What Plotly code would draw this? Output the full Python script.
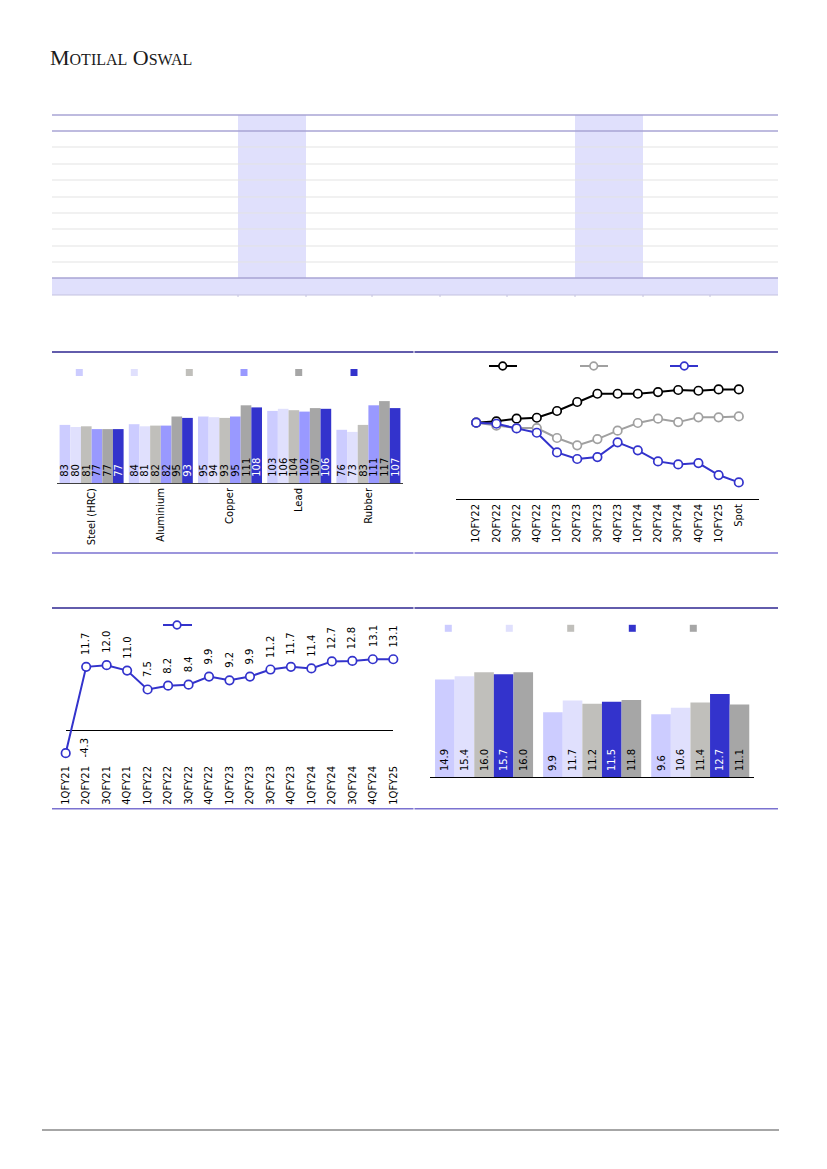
import plotly.graph_objects as go

W, H = 827, 1169


def px(x):
    return x / W


def py(y):
    return 1 - y / H


FONT = "DejaVu Sans"
NB = "\u00a0"

# ---------------- Chart 1: grouped bars (metals) ----------------
metals = ["Steel (HRC)", "Aluminium", "Copper", "Lead", "Rubber"]
c1_s1 = [83, 84, 95, 103, 76]
c1_s2 = [80, 81, 94, 106, 73]
c1_s3 = [81, 82, 93, 104, 83]
c1_s4 = [77, 82, 95, 102, 111]
c1_s5 = [77, 95, 111, 107, 117]
c1_s6 = [77, 93, 108, 106, 107]
c1_series = [c1_s1, c1_s2, c1_s3, c1_s4, c1_s5, c1_s6]
c1_colors = ["#ccccff", "#e0e0fd", "#c0bfbb", "#9999ff", "#a6a6a6", "#3333cc"]
c1_txtcol = ["#000000"] * 5 + ["#ffffff"]

# ---------------- Chart 2: indexed lines ----------------
quarters2 = ["1QFY22", "2QFY22", "3QFY22", "4QFY22", "1QFY23", "2QFY23", "3QFY23",
             "4QFY23", "1QFY24", "2QFY24", "3QFY24", "4QFY24", "1QFY25", "Spot"]
c2_black = [100.0, 100.9, 102.7, 103.3, 107.8, 113.8, 119.3, 119.3, 119.3, 120.4, 121.8, 121.3, 122.2, 122.2]
c2_gray = [100.0, 98.0, 96.4, 96.4, 89.8, 84.9, 89.1, 94.7, 99.8, 102.7, 100.4, 103.6, 103.6, 104.2]
c2_blue = [100.0, 99.3, 96.2, 93.3, 80.2, 75.8, 77.1, 86.9, 81.6, 74.2, 72.2, 73.1, 65.1, 60.2]

# ---------------- Chart 3: growth line ----------------
quarters3 = ["1QFY21", "2QFY21", "3QFY21", "4QFY21", "1QFY22", "2QFY22", "3QFY22", "4QFY22",
             "1QFY23", "2QFY23", "3QFY23", "4QFY23", "1QFY24", "2QFY24", "3QFY24", "4QFY24", "1QFY25"]
c3_vals = [-4.3, 11.7, 12.0, 11.0, 7.5, 8.2, 8.4, 9.9, 9.2, 9.9, 11.2, 11.7, 11.4, 12.7, 12.8, 13.1, 13.1]

# ---------------- Chart 4: grouped bars ----------------
groups4 = ["Group A", "Group B", "Group C"]
c4_s1 = [14.9, 9.9, 9.6]
c4_s2 = [15.4, 11.7, 10.6]
c4_s3 = [16.0, 11.2, 11.4]
c4_s4 = [15.7, 11.5, 12.7]
c4_s5 = [16.0, 11.8, 11.1]
c4_series = [c4_s1, c4_s2, c4_s3, c4_s4, c4_s5]
c4_colors = ["#ccccff", "#e0e0fd", "#c0bfbb", "#3333cc", "#a6a6a6"]
c4_txtcol = ["#000000", "#000000", "#000000", "#ffffff", "#000000"]

fig = go.Figure()

# chart 1 bars
gw1 = 0.925
bw1 = gw1 / 6
for i, (vals, col, tc) in enumerate(zip(c1_series, c1_colors, c1_txtcol)):
    fig.add_trace(go.Bar(
        x=metals, y=vals, xaxis="x", yaxis="y",
        width=bw1, offset=-gw1 / 2 + i * bw1,
        marker=dict(color=col, line=dict(width=0)),
        text=[NB + str(v) for v in vals], textposition="inside",
        insidetextanchor="start", textangle=-90,
        insidetextfont=dict(family=FONT, size=10, color=tc),
        showlegend=False, hoverinfo="skip"))

# chart 2 lines
for vals, col in [(c2_black, "#000000"), (c2_gray, "#a0a0a0"), (c2_blue, "#3333cc")]:
    fig.add_trace(go.Scatter(
        x=quarters2, y=vals, xaxis="x2", yaxis="y2", mode="lines+markers",
        line=dict(color=col, width=2),
        marker=dict(symbol="circle", size=8.5, color="#ffffff", line=dict(color=col, width=1.7)),
        showlegend=False, hoverinfo="skip", cliponaxis=False))

# chart 3 line
fig.add_trace(go.Scatter(
    x=quarters3, y=c3_vals, xaxis="x3", yaxis="y3", mode="lines+markers",
    line=dict(color="#3333cc", width=2),
    marker=dict(symbol="circle", size=8.5, color="#ffffff", line=dict(color="#3333cc", width=1.7)),
    showlegend=False, hoverinfo="skip", cliponaxis=False))

# chart 4 bars
gw4 = 0.907
bw4 = gw4 / 5
for i, (vals, col, tc) in enumerate(zip(c4_series, c4_colors, c4_txtcol)):
    fig.add_trace(go.Bar(
        x=groups4, y=vals, xaxis="x4", yaxis="y4",
        width=bw4, offset=-gw4 / 2 + i * bw4,
        marker=dict(color=col, line=dict(width=0)),
        text=[NB + f"{v:.1f}" for v in vals], textposition="inside",
        insidetextanchor="start", textangle=-90,
        insidetextfont=dict(family=FONT, size=10, color=tc),
        showlegend=False, hoverinfo="skip"))

# data labels for chart 3
annotations = []
for q, v in zip(quarters3, c3_vals):
    if v < 0:
        annotations.append(dict(x=q, y=v, xref="x3", yref="y3", text=f"{v:.1f}",
                                textangle=-90, showarrow=False, xanchor="left",
                                yanchor="middle", xshift=11, yshift=6,
                                font=dict(family=FONT, size=10, color="#000000")))
    else:
        annotations.append(dict(x=q, y=v, xref="x3", yref="y3", text=f"{v:.1f}",
                                textangle=-90, showarrow=False, xanchor="center",
                                yanchor="bottom", yshift=10,
                                font=dict(family=FONT, size=10, color="#000000")))

# logo
annotations.append(dict(
    x=px(48), y=py(57.5), xref="paper", yref="paper", xanchor="left", yanchor="middle",
    showarrow=False,
    text=('M<span style="font-size:16px">OTILAL</span> '
          'O<span style="font-size:16px">SWAL</span>'),
    font=dict(family="Liberation Serif", size=22, color="#1a1a1a")))

shapes = []


def hline(x0, x1, y, color, width):
    shapes.append(dict(type="line", xref="paper", yref="paper",
                       x0=px(x0), x1=px(x1), y0=py(y), y1=py(y),
                       line=dict(color=color, width=width)))


def rect(x0, x1, y0, y1, color, layer="below"):
    shapes.append(dict(type="rect", xref="paper", yref="paper",
                       x0=px(x0), x1=px(x1), y0=py(y0), y1=py(y1),
                       fillcolor=color, line=dict(width=0), layer=layer))


def circ(cx, cy, r, color):
    shapes.append(dict(type="circle", xref="paper", yref="paper",
                       x0=px(cx - r), x1=px(cx + r), y0=py(cy + r), y1=py(cy - r),
                       fillcolor="#ffffff", line=dict(color=color, width=1.7), layer="above"))


# table
TAB = "#e0e0fc"
rect(238, 306, 115, 278, TAB)
rect(575, 643, 115, 278, TAB)
rect(52, 778, 278, 295, TAB)
for yy in [147, 164, 180, 197, 213, 229, 246, 262]:
    hline(52, 778, yy, "#e3e3e3", 1)
hline(52, 778, 115, "#a8a4d4", 1.3)
hline(52, 778, 131, "#a8a4d4", 1.3)
hline(52, 778, 278, "#a8a4d4", 1.3)
hline(52, 778, 295, "#c4c2e0", 1)
for xx in [238, 306, 372, 440, 507, 575, 643, 710]:
    shapes.append(dict(type="line", xref="paper", yref="paper",
                       x0=px(xx), x1=px(xx), y0=py(295), y1=py(297),
                       line=dict(color="#c4c2e0", width=1)))

# section borders
DARK = "#2e2690"
MED = "#7b72d0"
for yy, col in [(352, DARK), (553, MED), (608, DARK), (808.7, MED)]:
    hline(52, 413.5, yy, col, 1.6)
    hline(414.5, 778, yy, col, 1.6)
hline(42, 779, 1130, "#a6a6a6", 2)

# legends chart 1
for cx, col in zip([79.3, 134.3, 189.3, 244, 298.7, 354], c1_colors):
    rect(cx - 3.5, cx + 3.5, 369, 376, col, layer="above")
# legends chart 4
for cx, col in zip([448.3, 509.3, 570.7, 632.3, 693.3], c4_colors):
    rect(cx - 3.5, cx + 3.5, 624.8, 631.8, col, layer="above")
# legends chart 2
for x0, x1, cx, col in [(489, 517, 502.7, "#000000"), (580, 608, 593.7, "#a0a0a0"),
                        (670, 698, 684.3, "#3333cc")]:
    hline(x0, x1, 366, col, 2)
    circ(cx, 366, 3.8, col)
# legend chart 3
hline(163, 192, 625, "#3333cc", 2)
circ(177, 625, 3.8, "#3333cc")

tickfont = dict(family=FONT, size=10, color="#000000")
hidden_y = dict(visible=False, showgrid=False, zeroline=False, automargin=False)

fig.update_layout(
    width=W, height=H, autosize=False,
    margin=dict(l=0, r=0, t=0, b=0, pad=0, autoexpand=False),
    paper_bgcolor="#ffffff", plot_bgcolor="rgba(0,0,0,0)",
    barmode="overlay", showlegend=False,
    uniformtext=dict(minsize=9, mode="show"),
    shapes=shapes, annotations=annotations,
    xaxis=dict(domain=[px(57), px(403)], type="category", anchor="y", automargin=False,
               showline=True, linecolor="#404040", linewidth=1, showgrid=False,
               ticks="", tickangle=-90, tickfont=tickfont),
    yaxis=dict(domain=[py(483), py(385)], range=[0, 140], anchor="x", **hidden_y),
    xaxis2=dict(domain=[px(455.7), px(759.3)], type="category", anchor="y2", automargin=False,
                showline=True, linecolor="#000000", linewidth=1, showgrid=False,
                ticks="", tickangle=-90, tickfont=tickfont),
    yaxis2=dict(domain=[py(499), py(375)], range=[49.13, 131.8], anchor="x2", **hidden_y),
    xaxis3=dict(domain=[px(65.7), px(393.3)], type="category", anchor="y3", automargin=False,
                range=[0, 16], showline=False, showgrid=False,
                ticks="", tickangle=-90, tickfont=tickfont),
    yaxis3=dict(domain=[py(763), py(620)], range=[-6.111, 20.37], anchor="x3",
                visible=True, showticklabels=False, showgrid=False, showline=False,
                automargin=False,
                zeroline=True, zerolinecolor="#000000", zerolinewidth=1, ticks=""),
    xaxis4=dict(domain=[px(430), px(754.3)], type="category", anchor="y4", automargin=False,
                showline=True, linecolor="#000000", linewidth=1, showgrid=False,
                ticks="", showticklabels=False),
    yaxis4=dict(domain=[py(777.3), py(633)], range=[0, 22], anchor="x4", **hidden_y),
)

fig.write_html(
    "out.html",
    config={"displayModeBar": False, "responsive": False},
    post_script=("document.body.style.margin='0';"
                 "document.body.style.padding='0';"
                 "document.documentElement.style.overflow='hidden';"
                 "document.body.style.overflow='hidden';"),
)
